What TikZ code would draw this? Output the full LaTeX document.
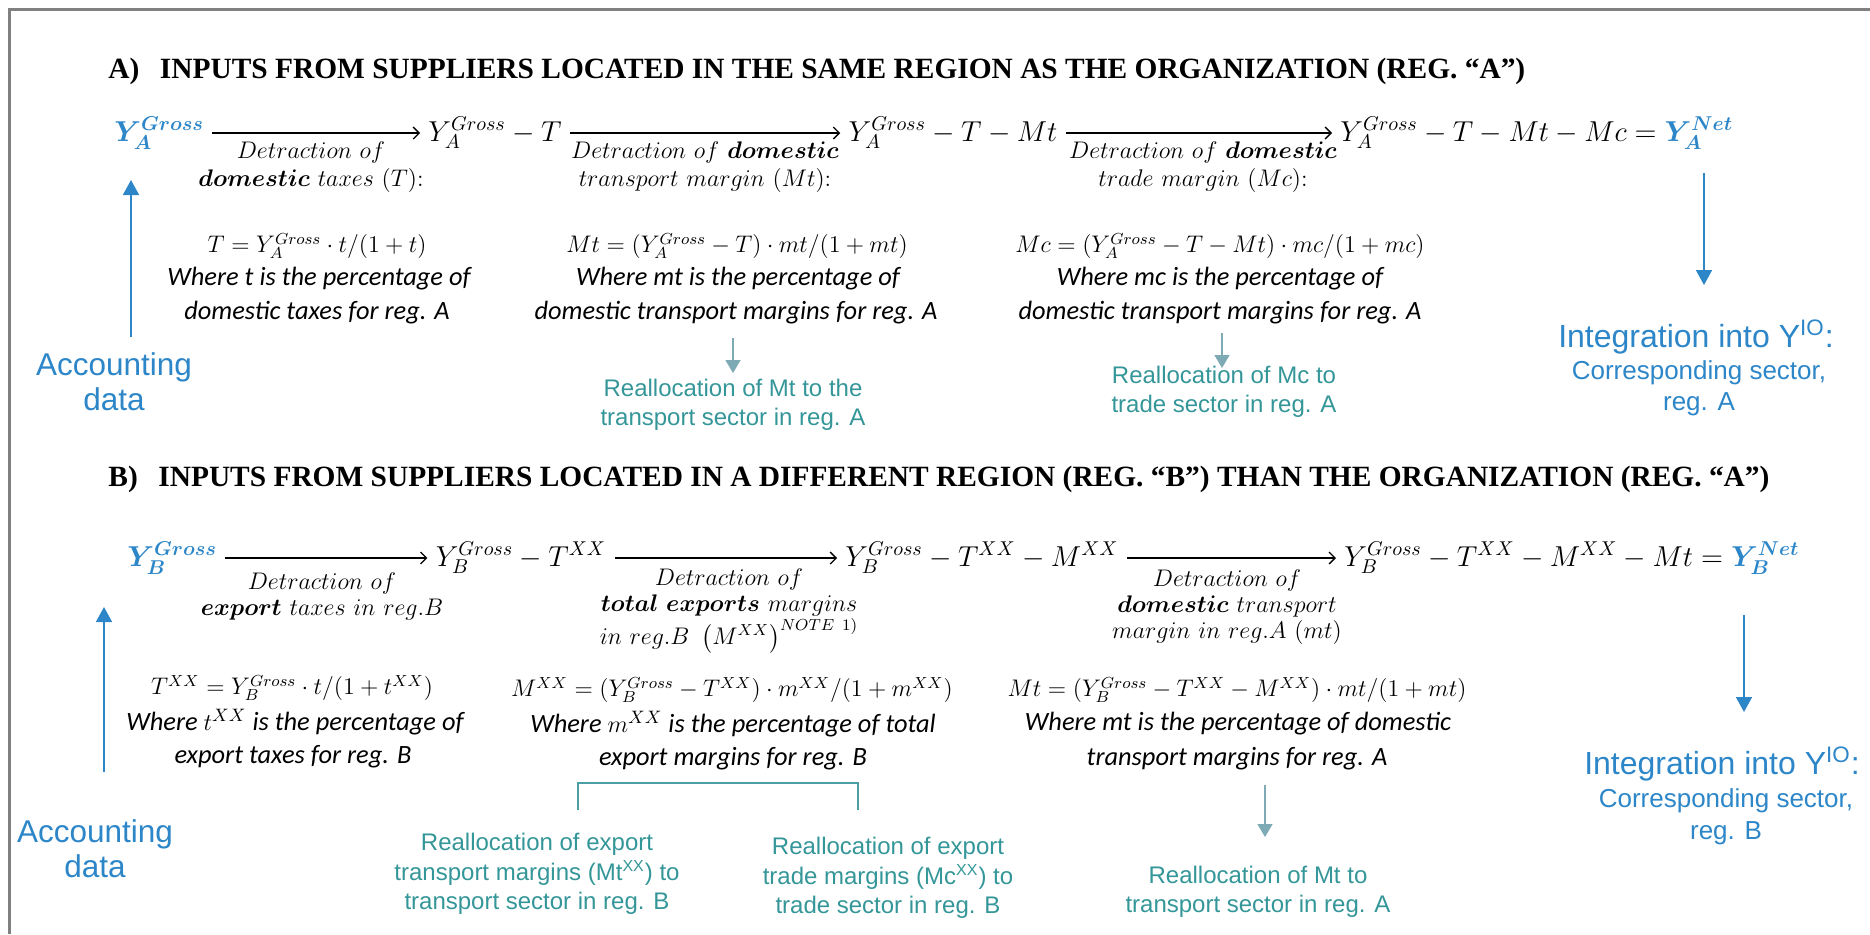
\documentclass[tikz,border=0pt]{standalone}
\usepackage{fontspec}
\usepackage{amsmath}
\usepackage{bm}
\usetikzlibrary{arrows.meta}
\newfontfamily\headfont{Liberation Serif}
\newfontfamily\sansf{Liberation Sans}
\newfontfamily\carl{Carlito}
\definecolor{blueT}{RGB}{44,134,200}
\definecolor{tealT}{RGB}{52,150,152}
\definecolor{tealA}{RGB}{125,170,180}
\definecolor{tealB}{RGB}{74,158,164}
\definecolor{frameC}{RGB}{128,128,128}
\begin{document}
\begin{tikzpicture}[x=0.5pt,y=-0.5pt,
  heading/.style={anchor=west, inner sep=0, font=\headfont\bfseries\fontsize{14.7}{17}\selectfont},
  eq/.style={inner xsep=4pt, inner ysep=0, font=\fontsize{14.5}{17}\selectfont},
  lbl/.style={inner sep=0, align=center, font=\fontsize{12}{14}\selectfont},
  lblb/.style={inner sep=0, align=center, font=\fontsize{12}{13}\selectfont},
  frm/.style={inner sep=0, font=\fontsize{12}{14}\selectfont},
  where/.style={inner sep=0, font=\carl\itshape\fontsize{13.2}{16}\selectfont},
  realloc/.style={inner sep=0, align=center, text=tealT, font=\sansf\fontsize{12}{14.7}\selectfont},
  acc/.style={inner sep=0, align=center, text=blueT, font=\sansf\fontsize{15.75}{17.5}\selectfont},
  intbig/.style={inner sep=0, text=blueT, font=\sansf\fontsize{16}{18}\selectfont},
  intsmall/.style={inner sep=0, text=blueT, font=\sansf\fontsize{13}{15}\selectfont},
  eqarrow/.style={-{Straight Barb[length=3pt,width=6pt]}, line width=0.65pt},
  bluearrow/.style={-{Triangle[length=7.5pt,width=8pt]}, draw=blueT, fill=blueT, line width=0.75pt},
  tealarrow/.style={-{Triangle[length=6.5pt,width=7.5pt]}, draw=tealA, fill=tealA, line width=0.75pt},
  bracket/.style={draw=tealB, line width=0.6pt},
]
\useasboundingbox (0,0) rectangle (1870,934);
\draw[frameC, line width=1.5pt] (9,934) -- (9,9) -- (1870,9);

% ---------- A ----------
\node[heading] (hA) at (108,71) {A)\hspace{0.7em}INPUTS FROM SUPPLIERS LOCATED IN THE SAME REGION AS THE ORGANIZATION (REG. “A”)};

\node[eq, anchor=west, text=blueT] (a0) at (106,133) {$\bm{Y_A^{Gross}}$};
\node[eq] (a1) at (495,133) {$Y_A^{Gross} - T$};
\node[eq] (a2) at (953,133) {$Y_A^{Gross} - T - Mt$};
\node[eq, anchor=west] (a3) at (1332,133) {$Y_A^{Gross} - T - Mt - Mc = \textcolor{blueT}{\bm{Y_A^{Net}}}$};
\draw[eqarrow] (a0.east) -- (a1.west);
\draw[eqarrow] (a1.east) -- (a2.west);
\draw[eqarrow] (a2.east) -- (a3.west);

\node[lbl] (la1) at (311,167) {$Detraction\ of$\\$\bm{domestic}\ taxes\ (T){:}$};
\node[lbl] (la2) at (705,167) {$Detraction\ of\ \bm{domestic}$\\$transport\ margin\ (Mt){:}$};
\node[lbl] (la3) at (1203,167) {$Detraction\ of\ \bm{domestic}$\\$trade\ margin\ (Mc){:}$};

\node[frm] (fa1) at (317,246) {$T = Y_A^{Gross}\cdot t/(1+t)$};
\node[where] (wa1a) at (319,279) {Where t is the percentage of};
\node[where] (wa1b) at (317,313) {domestic taxes for reg. A};
\node[frm] (fa2) at (737,246) {$Mt = (Y_A^{Gross} - T)\cdot mt/(1+mt)$};
\node[where] (wa2a) at (738,279) {Where mt is the percentage of};
\node[where] (wa2b) at (736,313) {domestic transport margins for reg. A};
\node[frm] (fa3) at (1220,246) {$Mc = (Y_A^{Gross} - T - Mt)\cdot mc/(1+mc)$};
\node[where] (wa3a) at (1220,279) {Where mc is the percentage of};
\node[where] (wa3b) at (1220,313) {domestic transport margins for reg. A};

\coordinate (accAtop) at (131,337);
\coordinate (yAbot) at (131,180);
\draw[bluearrow] (accAtop) -- (yAbot);
\node[acc] (accA) at (114,382) {Accounting\\data};

\coordinate (mtA1) at (733,338);
\coordinate (mtA2) at (733,373);
\draw[tealarrow] (mtA1) -- (mtA2);
\node[realloc] (rA1) at (733,405) {Reallocation of Mt to the\\transport sector in reg. A};
\coordinate (mcA1) at (1222,333);
\coordinate (mcA2) at (1222,368);
\draw[tealarrow] (mcA1) -- (mcA2);
\node[realloc] (rA2) at (1224,392) {Reallocation of Mc to\\trade sector in reg. A};

\coordinate (netA1) at (1704,173);
\coordinate (netA2) at (1704,285);
\draw[bluearrow] (netA1) -- (netA2);
\node[intbig] (intA1) at (1696,337) {Integration into Y\textsuperscript{IO}:};
\node[intsmall] (intA2) at (1699,373) {Corresponding sector,};
\node[intsmall] (intA3) at (1699,404) {reg. A};

% ---------- B ----------
\node[heading] (hB) at (108,479) {B)\hspace{0.7em}INPUTS FROM SUPPLIERS LOCATED IN A DIFFERENT REGION (REG. “B”) THAN THE ORGANIZATION (REG. “A”)};

\node[eq, anchor=west, text=blueT] (b0) at (119,558) {$\bm{Y_B^{Gross}}$};
\node[eq] (b1) at (521,558) {$Y_B^{Gross} - T^{XX}$};
\node[eq] (b2) at (982,558) {$Y_B^{Gross} - T^{XX} - M^{XX}$};
\node[eq, anchor=west] (b3) at (1336,558) {$Y_B^{Gross} - T^{XX} - M^{XX} - Mt = \textcolor{blueT}{\bm{Y_B^{Net}}}$};
\draw[eqarrow] (b0.east) -- (b1.west);
\draw[eqarrow] (b1.east) -- (b2.west);
\draw[eqarrow] (b2.east) -- (b3.west);

\node[lblb] (lb1) at (322,596) {$Detraction\ of$\\$\bm{export}\ taxes\ in\ reg.B$};
\node[lblb] (lb2) at (729,611) {$Detraction\ of$\\$\bm{total\ exports}\ margins$\\$in\ reg.B\ \left(M^{XX}\right)^{NOTE\ 1)}$};
\node[lblb] (lb3) at (1227,607) {$Detraction\ of$\\$\bm{domestic}\ transport$\\$margin\ in\ reg.A\ (mt)$};

\node[frm] (fb1) at (292,688) {$T^{XX} = Y_B^{Gross}\cdot t/(1+t^{XX})$};
\node[where] (wb1a) at (295,722) {Where $t^{XX}$ is the percentage of};
\node[where] (wb1b) at (293,757) {export taxes for reg. B};
\node[frm] (fb2) at (732,690) {$M^{XX} = (Y_B^{Gross} - T^{XX})\cdot m^{XX}/(1+m^{XX})$};
\node[where] (wb2a) at (733,724) {Where $m^{XX}$ is the percentage of total};
\node[where] (wb2b) at (733,759) {export margins for reg. B};
\node[frm] (fb3) at (1237,690) {$Mt = (Y_B^{Gross} - T^{XX} - M^{XX})\cdot mt/(1+mt)$};
\node[where] (wb3a) at (1238,724) {Where mt is the percentage of domestic};
\node[where] (wb3b) at (1237,759) {transport margins for reg. A};

\coordinate (accBtop) at (104,772);
\coordinate (yBbot) at (104,607);
\draw[bluearrow] (accBtop) -- (yBbot);
\node[acc] (accB) at (95,849) {Accounting\\data};

\coordinate (brL) at (578,810);
\coordinate (brLT) at (578,783);
\coordinate (brRT) at (858,783);
\coordinate (brR) at (858,810);
\draw[bracket] (brL) -- (brLT) -- (brRT) -- (brR);
\node[realloc] (rB1) at (537,874) {Reallocation of export\\transport margins (Mt\textsuperscript{XX}) to\\transport sector in reg. B};
\node[realloc] (rB2) at (888,878) {Reallocation of export\\trade margins (Mc\textsuperscript{XX}) to\\trade sector in reg. B};

\coordinate (mtB1) at (1265,785);
\coordinate (mtB2) at (1265,837);
\draw[tealarrow] (mtB1) -- (mtB2);
\node[realloc] (rB3) at (1258,892) {Reallocation of Mt to\\transport sector in reg. A};

\coordinate (netB1) at (1744,615);
\coordinate (netB2) at (1744,712);
\draw[bluearrow] (netB1) -- (netB2);
\node[intbig] (intB1) at (1722,764) {Integration into Y\textsuperscript{IO}:};
\node[intsmall] (intB2) at (1726,801) {Corresponding sector,};
\node[intsmall] (intB3) at (1726,833) {reg. B};
\end{tikzpicture}
\end{document}
